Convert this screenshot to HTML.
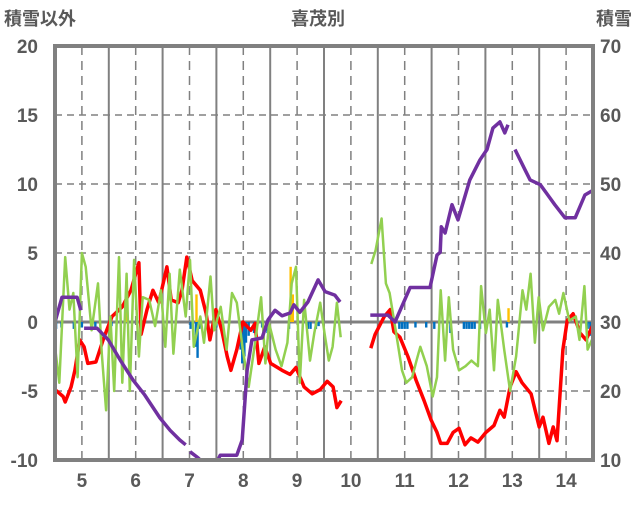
<!DOCTYPE html>
<html><head><meta charset="utf-8"><style>
body{margin:0;background:#fff;}
svg text{font-family:"Liberation Sans","Noto Sans CJK JP",sans-serif;fill:#595959;}
</style></head><body>
<svg id="c" width="636" height="501" viewBox="0 0 636 501" xmlns="http://www.w3.org/2000/svg">
<text x="4" y="25" font-size="18" font-weight="bold">積雪以外</text>
<text x="318" y="25" font-size="18" font-weight="bold" text-anchor="middle">喜茂別</text>
<text x="632" y="25" font-size="18" font-weight="bold" text-anchor="end">積雪</text>
<g id="grid"></g><g id="bars"></g><g id="lines"></g><g id="axes"></g>
</svg>
<script>
const leftTicks=[20,15,10,5,0,-5,-10];
const rightTicks=[70,60,50,40,30,20,10];
const monthLabels=[5,6,7,8,9,10,11,12,13,14];
const purpleM=[4.5,4.63,4.91,4.98,null,5.04,5.28,5.49,5.71,5.95,6.17,6.45,6.64,6.82,6.93,null,7.01,7.16,7.2,7.53,7.57,7.88,7.98,8.07,8.16,8.35,8.46,8.59,8.72,8.87,8.94,9.05,9.2,9.39,9.52,9.7,9.8,null,10.36,10.69,10.82,11.0,11.1,11.47,11.6,11.66,11.68,11.75,11.88,11.99,12.21,12.4,12.53,12.64,12.77,12.86,12.92,null,13.05,13.24,13.33,13.52,13.66,13.79,13.98,14.17,14.35,14.5];
const purpleV=[30,33.6,33.6,31.7,null,29.1,29.1,27.4,24.5,21.6,19.4,16.1,14.3,12.9,12.2,null,11.2,10.3,10,10,10.7,10.7,12.9,23,27.4,27.7,30.3,31.7,30.9,31.3,32.5,31.4,32.9,36.1,34.4,33.9,32.9,null,31,31,30,33.2,35,35,39.7,40.1,43.8,42.9,47,44.8,50.6,53.5,55,58.1,59,57.4,58.6,null,55,52,50.6,49.9,48.4,47,45.1,45.1,48.4,49.1];
const redM=[4.5,4.65,4.69,4.8,4.87,4.96,5.04,5.11,5.26,5.41,5.56,5.75,5.91,6.06,6.1,6.21,6.32,6.43,6.58,6.66,6.79,6.86,6.95,7.05,7.2,7.31,7.38,7.49,7.6,7.7,7.77,7.88,7.99,8.14,8.22,8.29,8.4,8.51,8.72,8.87,8.98,9.13,9.28,9.43,9.56,9.67,9.74,9.82,null,10.37,10.45,10.62,10.73,10.8,10.91,11.06,11.21,11.36,11.49,11.6,11.67,11.79,11.9,12.01,12.12,12.23,12.36,12.51,12.66,12.77,12.85,12.96,13.07,13.18,13.35,13.5,13.57,13.68,13.76,13.83,13.94,14.02,14.13,14.26,14.37,14.5];
const redV=[-4.9,-5.4,-5.8,-4.7,-3.5,-1.3,-1.8,-3,-2.9,-1.1,0.4,1.1,2.3,4.3,-0.9,0.9,2.3,1.4,4.0,1.6,1.4,2.3,4.7,3.0,2.3,0.6,-1.3,0.9,-0.6,-2.5,-3.5,-2.0,0,-0.6,-0.1,-3.0,-1.8,-3.0,-3.5,-3.8,-3.3,-4.7,-5.2,-4.9,-4.3,-4.7,-6.2,-5.7,null,-1.9,-0.9,0.4,0.9,-0.7,-1.1,-2.5,-4.2,-5.7,-7.1,-8.0,-8.8,-8.8,-8.0,-7.7,-8.9,-8.4,-8.7,-8.0,-7.5,-6.4,-6.9,-4.7,-3.6,-4.4,-5.2,-7.6,-6.9,-8.8,-7.6,-8.6,-2.0,0.1,0.6,-0.8,-1.3,-0.2];
const greenM=[4.5,4.58,4.69,4.77,4.84,4.92,5.0,5.07,5.18,5.3,5.37,5.45,5.53,5.6,5.69,5.75,5.83,5.89,5.97,6.06,6.13,6.25,6.36,6.47,6.55,6.63,6.7,6.82,6.93,7.01,7.08,7.2,7.27,7.39,7.46,7.58,7.69,7.79,7.88,7.99,8.1,8.22,8.33,8.41,8.48,8.6,8.71,8.82,8.9,8.98,9.05,9.13,9.24,9.32,9.43,9.51,9.59,9.66,9.74,9.81,null,10.38,10.46,10.57,10.65,10.72,10.84,10.95,11.03,11.14,11.22,11.29,11.41,11.52,11.6,11.67,11.75,11.82,11.9,12.01,12.13,12.24,12.36,12.42,12.51,12.58,12.66,12.73,12.85,12.96,13.07,13.19,13.26,13.34,13.42,13.49,13.57,13.68,13.8,13.87,13.95,14.06,14.18,14.25,14.34,14.4,14.48,14.5];
const greenV=[-1.8,-4.4,4.7,0.9,2.1,-4.0,5.0,4.0,-0.6,2.8,-2.3,-6.4,0.4,-5,4.7,-4.4,3.5,-5,4.5,-2.5,1.8,1.6,-0.3,2.3,-1.8,3.5,-2.3,3.8,0.4,4.5,-1.8,0.4,-1.5,3.3,-0.6,1.1,-2.0,2.1,1.4,-2.0,-4.7,-1.5,1.8,-3.0,-0.1,-2.0,-3.2,-1.5,2.8,4.0,-4.4,1.6,-2.8,-0.8,1.4,-0.8,-2.8,-1.8,1.4,-1.1,null,4.2,5.2,7.5,2.8,2.1,-0.8,-3.5,-4.4,-4.0,-2.8,-1.8,-3.2,-5.4,-4.0,2.3,-2.8,1.8,-2.0,-3.5,-3.2,-2.8,-3.2,2.6,-0.8,0.9,-3.5,1.6,-2.0,-5.0,-2.5,2.3,0.9,3.5,-1.5,1.8,-0.6,1.1,1.6,0.6,2.1,0.1,0.4,-1.3,2.6,-2.0,-1.3,-1.8];
const blueM=[4.52,4.62,4.85,5.0,5.25,5.55,7.02,7.12,7.15,7.18,7.5,7.95,7.98,8.02,8.05,8.1,8.2,8.35,8.45,8.85,9.2,9.25,9.35,9.4,10.9,10.95,11.0,11.05,11.2,11.4,11.55,11.85,12.1,12.15,12.2,12.25,12.3,12.4,12.9,14.4,14.45];
const blueV=[-0.5,-0.4,-0.5,-0.4,-0.4,-0.3,-0.5,-1.8,-2.6,-0.5,-0.4,-2.0,-3.0,-2.5,-1.5,-1.0,-0.8,-0.4,-0.8,-0.5,-0.5,-0.5,-0.5,-0.3,-0.5,-0.5,-0.5,-0.5,-0.4,-0.4,-0.5,-0.8,-0.5,-0.5,-0.5,-0.5,-0.5,-0.5,-0.4,-0.5,-1.0];
const orangeM=[5.82,7.13,8.88,8.92,12.93];
const orangeV=[1.5,2.0,4.0,2.0,1.0];

const L=55,R=593,T=46,B=460;
const xs=m=>L+(m-4.5)*(R-L)/10;
const yl=v=>T+(20-v)*(B-T)/30;
const yr=v=>T+(70-v)*(B-T)/60;
const NS='http://www.w3.org/2000/svg';
function mk(tag,attrs,parent){const e=document.createElementNS(NS,tag);for(const k in attrs)e.setAttribute(k,attrs[k]);document.getElementById(parent).appendChild(e);return e;}

leftTicks.forEach(v=>{
  if(v!==20&&v!==-10&&v!==0){const l=mk('line',{x1:L,x2:R,y1:yl(v),y2:yl(v),stroke:'#808080','stroke-width':1.5,'stroke-dasharray':'7,5'},'grid');
  
  }
  const t=mk('text',{x:38,y:yl(v)+7,'font-size':19,'font-weight':'bold','text-anchor':'end'},'axes');t.textContent=v;
  
  
});
rightTicks.forEach(v=>{
  const t=mk('text',{x:600,y:yr(v)+7,'font-size':19,'font-weight':'bold'},'axes');t.textContent=v;
  
  
});
for(let m=5.5;m<14.5;m+=1){const l=mk('line',{x1:xs(m),x2:xs(m),y1:T,y2:B,stroke:'#808080','stroke-width':2},'grid');
  
  }
monthLabels.forEach(m=>{
  const l=mk('line',{x1:xs(m),x2:xs(m),y1:T,y2:B,stroke:'#808080','stroke-width':1.5,'stroke-dasharray':'9,6'},'grid');
  
  
  const t=mk('text',{x:xs(m),y:487,'font-size':19,'font-weight':'bold','text-anchor':'middle'},'axes');t.textContent=m;
  
  
});
const z=mk('line',{x1:L,x2:R,y1:yl(0),y2:yl(0),stroke:'#808080','stroke-width':3},'grid');



function bars(M,V,color,name){M.forEach((m,i)=>{const v=V[i];const y0=yl(0),y1=yl(v);
  const r=mk('rect',{x:xs(m)-1.2,y:Math.min(y0,y1),width:2.4,height:Math.abs(y1-y0),fill:color},'bars');
  
  });}
bars(blueM,blueV,'#0070c0','blue-bar');
bars(orangeM,orangeV,'#ffc000','orange-bar');

function line(M,V,ys,color,w,name){let d='',pen=false;M.forEach((m,i)=>{if(m===null||V[i]===null){pen=false;return;}
  d+=(pen?'L':'M')+xs(m).toFixed(1)+','+ys(V[i]).toFixed(1);pen=true;});
  const p=mk('path',{d:d,fill:'none',stroke:color,'stroke-width':w,'stroke-linejoin':'round'},'lines');
  
  }
line(redM,redV,yl,'#ff0000',3.5,'red-series');
line(greenM,greenV,yl,'#92d050',2.5,'green-series');
line(purpleM,purpleV,yr,'#7030a0',3.5,'snow-depth-series');

const f=mk('rect',{x:L,y:T,width:R-L,height:B-T,fill:'none',stroke:'#808080','stroke-width':4},'axes');


</script>
</body></html>
